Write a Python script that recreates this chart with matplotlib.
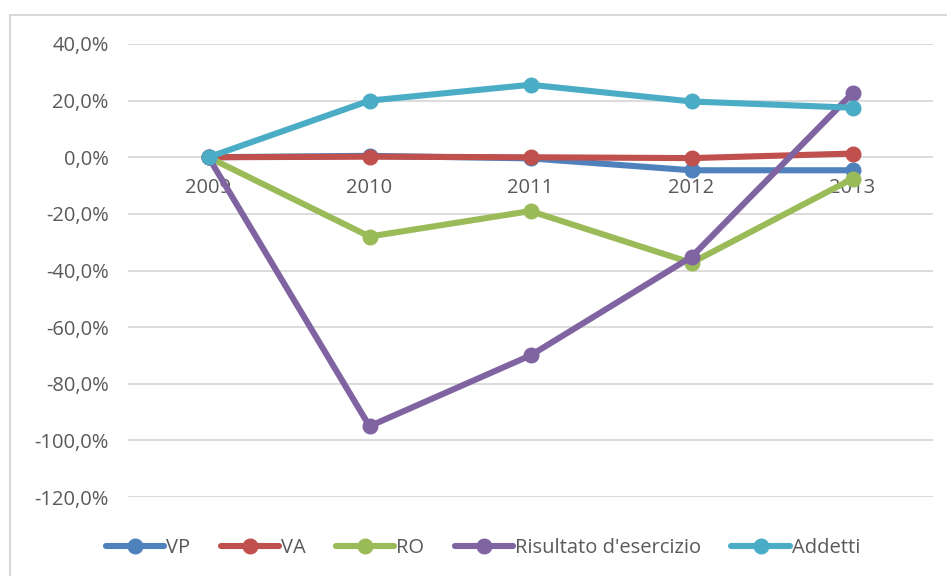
import matplotlib.pyplot as plt
from matplotlib.patches import Rectangle
from matplotlib.ticker import FuncFormatter

years = ['2009', '2010', '2011', '2012', '2013']
vp = [0.0, 0.5, -0.4, -4.6, -4.6]
va = [0.0, 0.2, 0.0, -0.3, 1.3]
ro = [0.0, -28.0, -19.0, -37.3, -7.6]
risultato = [0.0, -95.0, -70.0, -35.2, 22.6]
addetti = [0.0, 20.0, 25.6, 19.7, 17.5]

series = [
    ('VP', vp, '#4F81BD'),
    ('VA', va, '#C0504D'),
    ('RO', ro, '#9BBB59'),
    ("Risultato d'esercizio", risultato, '#8064A2'),
    ('Addetti', addetti, '#4BACC6'),
]

plt.rcParams['font.family'] = ['Open Sans', 'DejaVu Sans']

fig = plt.figure(figsize=(9.47, 5.76), dpi=100)
ax = fig.add_axes([128 / 947, 1 - 497 / 576, (933 - 128) / 947, (497 - 44) / 576])

# chart border like Excel
fig.patches.append(Rectangle((10 / 947, -0.1), 1.2, 1 - 15 / 576 + 0.1,
                             transform=fig.transFigure, fill=False,
                             edgecolor='#D9D9D9', linewidth=1.5))

x = list(range(len(years)))
for name, vals, col in series:
    ax.plot(x, vals, color=col, linewidth=4.4, marker='o', markersize=10.5,
            label=name, solid_capstyle='round')

ax.set_xlim(-0.5, len(years) - 0.5)
ax.set_ylim(-120, 40)
ax.set_yticks(range(-120, 41, 20))
ax.yaxis.set_major_formatter(FuncFormatter(lambda v, p: f"{v:.1f}%".replace('.', ',')))
ax.grid(axis='y', color='#D9D9D9', linewidth=1.3)
ax.set_axisbelow(True)

for s in ['top', 'right', 'left']:
    ax.spines[s].set_visible(False)
ax.spines['bottom'].set_position(('data', 0))
ax.spines['bottom'].set_visible(False)

ax.set_xticks(x)
ax.set_xticklabels(years)
ax.tick_params(axis='x', length=0, pad=15, labelsize=14.5, labelcolor='#595959')
ax.tick_params(axis='y', length=0, pad=14, labelsize=14.5, labelcolor='#595959')

leg = fig.legend(loc='center', bbox_to_anchor=(0.51, 1 - 548 / 576), ncol=5,
                 frameon=False, fontsize=14.5, handlelength=2.9, columnspacing=1.5,
                 handletextpad=0.1, labelcolor='#595959')

fig.savefig('out.png', dpi=100)
